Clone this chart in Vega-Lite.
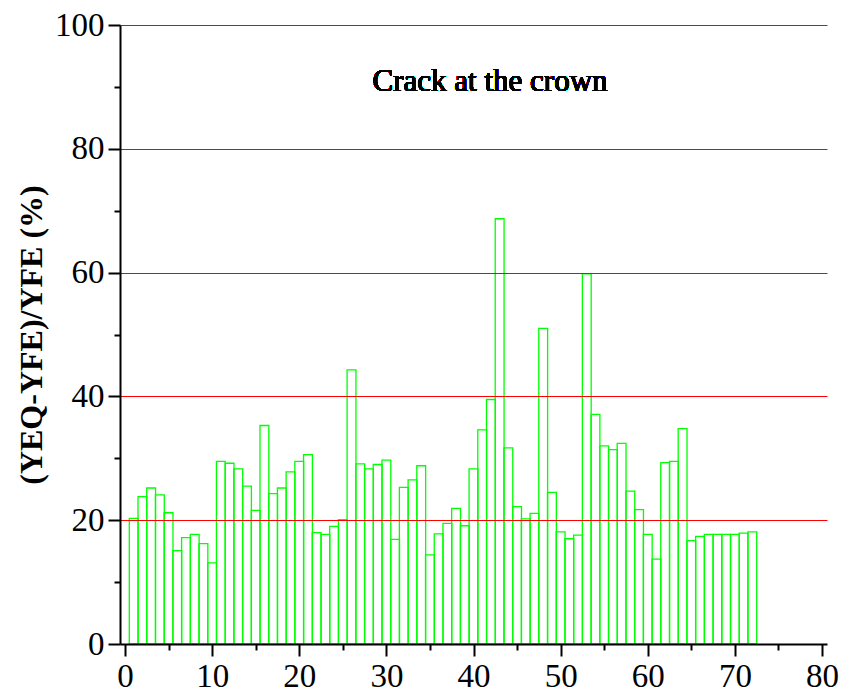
{
  "$schema": "https://vega.github.io/schema/vega-lite/v6.json",
  "width": 707,
  "height": 619,
  "autosize": "none",
  "padding": {"left": 120, "top": 25, "right": 24, "bottom": 56},
  "background": "white",
  "config": {
    "view": {"stroke": null},
    "axis": {
      "domainColor": "black",
      "domainWidth": 2,
      "tickColor": "black",
      "tickWidth": 2,
      "labelFont": "Liberation Serif",
      "labelFontSize": 33,
      "labelColor": "black",
      "titleFont": "Liberation Serif",
      "titleColor": "black"
    }
  },
  "resolve": {"axis": {"x": "independent", "y": "independent"}},
  "data": {
    "values": [
      {"n": 1, "v": 20.3}, {"n": 2, "v": 23.8}, {"n": 3, "v": 25.2}, {"n": 4, "v": 24.1},
      {"n": 5, "v": 21.2}, {"n": 6, "v": 15.1}, {"n": 7, "v": 17.2}, {"n": 8, "v": 17.7},
      {"n": 9, "v": 16.2}, {"n": 10, "v": 13.1}, {"n": 11, "v": 29.5}, {"n": 12, "v": 29.2},
      {"n": 13, "v": 28.3}, {"n": 14, "v": 25.5}, {"n": 15, "v": 21.6}, {"n": 16, "v": 35.3},
      {"n": 17, "v": 24.3}, {"n": 18, "v": 25.2}, {"n": 19, "v": 27.8}, {"n": 20, "v": 29.5},
      {"n": 21, "v": 30.6}, {"n": 22, "v": 18.0}, {"n": 23, "v": 17.7}, {"n": 24, "v": 19.0},
      {"n": 25, "v": 20.1}, {"n": 26, "v": 44.3}, {"n": 27, "v": 29.1}, {"n": 28, "v": 28.3},
      {"n": 29, "v": 29.0}, {"n": 30, "v": 29.7}, {"n": 31, "v": 16.9}, {"n": 32, "v": 25.3},
      {"n": 33, "v": 26.5}, {"n": 34, "v": 28.8}, {"n": 35, "v": 14.4}, {"n": 36, "v": 17.8},
      {"n": 37, "v": 19.5}, {"n": 38, "v": 21.9}, {"n": 39, "v": 19.1}, {"n": 40, "v": 28.3},
      {"n": 41, "v": 34.6}, {"n": 42, "v": 39.5}, {"n": 43, "v": 68.7}, {"n": 44, "v": 31.7},
      {"n": 45, "v": 22.2}, {"n": 46, "v": 20.2}, {"n": 47, "v": 21.1}, {"n": 48, "v": 51.0},
      {"n": 49, "v": 24.5}, {"n": 50, "v": 18.1}, {"n": 51, "v": 17.0}, {"n": 52, "v": 17.6},
      {"n": 53, "v": 59.8}, {"n": 54, "v": 37.1}, {"n": 55, "v": 32.0}, {"n": 56, "v": 31.4},
      {"n": 57, "v": 32.4}, {"n": 58, "v": 24.7}, {"n": 59, "v": 21.7}, {"n": 60, "v": 17.7},
      {"n": 61, "v": 13.7}, {"n": 62, "v": 29.3}, {"n": 63, "v": 29.5}, {"n": 64, "v": 34.8},
      {"n": 65, "v": 16.7}, {"n": 66, "v": 17.4}, {"n": 67, "v": 17.7}, {"n": 68, "v": 17.7},
      {"n": 69, "v": 17.7}, {"n": 70, "v": 17.7}, {"n": 71, "v": 17.9}, {"n": 72, "v": 18.1}
    ]
  },
  "layer": [
    {
      "mark": {"type": "bar", "filled": false, "stroke": "#00ff00", "strokeWidth": 1.3, "width": 8.84},
      "encoding": {
        "x": {
          "field": "n", "type": "quantitative",
          "scale": {"domain": [0, 80], "nice": false, "zero": false},
          "axis": {
            "values": [0,5,10,15,20,25,30,35,40,45,50,55,60,65,70,75,80],
            "labelExpr": "datum.value % 10 === 0 ? datum.label : ''",
            "tickSize": {"condition": {"test": "datum.value % 10 === 0", "value": 12}, "value": 6},
            "labelPadding": 4,
            "grid": false,
            "title": null,
            "zindex": 1
          }
        },
        "y": {
          "field": "v", "type": "quantitative",
          "scale": {"domain": [0, 100], "nice": false},
          "axis": {
            "values": [0,10,20,30,40,50,60,70,80,90,100],
            "labelExpr": "datum.value % 20 === 0 ? datum.label : ''",
            "tickSize": {"condition": {"test": "datum.value % 20 === 0", "value": 12}, "value": 6},
            "labelPadding": 4,
            "grid": true,
            "gridColor": {"condition": {"test": "datum.value % 20 === 0 && datum.value > 0", "value": "#ff0000"}, "value": "transparent"},
            "gridWidth": 1.2,
            "title": "\u00a0\u00a0\u00a0\u00a0\u00a0\u00a0\u00a0\u00a0\u00a0\u00a0\u00a0\u00a0\u00a0(YEQ-YFE)/YFE (%)",
            "titleFontSize": 32,
            "titleFontWeight": "bold",
            "titlePadding": 6,
            "zindex": 1
          }
        }
      }
    },
    {
      "mark": {"type": "text", "font": "Liberation Serif", "fontSize": 31, "fontWeight": "normal", "baseline": "alphabetic", "align": "center", "color": "black"},
      "encoding": {
        "x": {"datum": 41.9, "type": "quantitative", "axis": null},
        "y": {"datum": 89.4, "type": "quantitative", "axis": null},
        "text": {"value": "Crack at the crown"}
      }
    }
  ]
}
